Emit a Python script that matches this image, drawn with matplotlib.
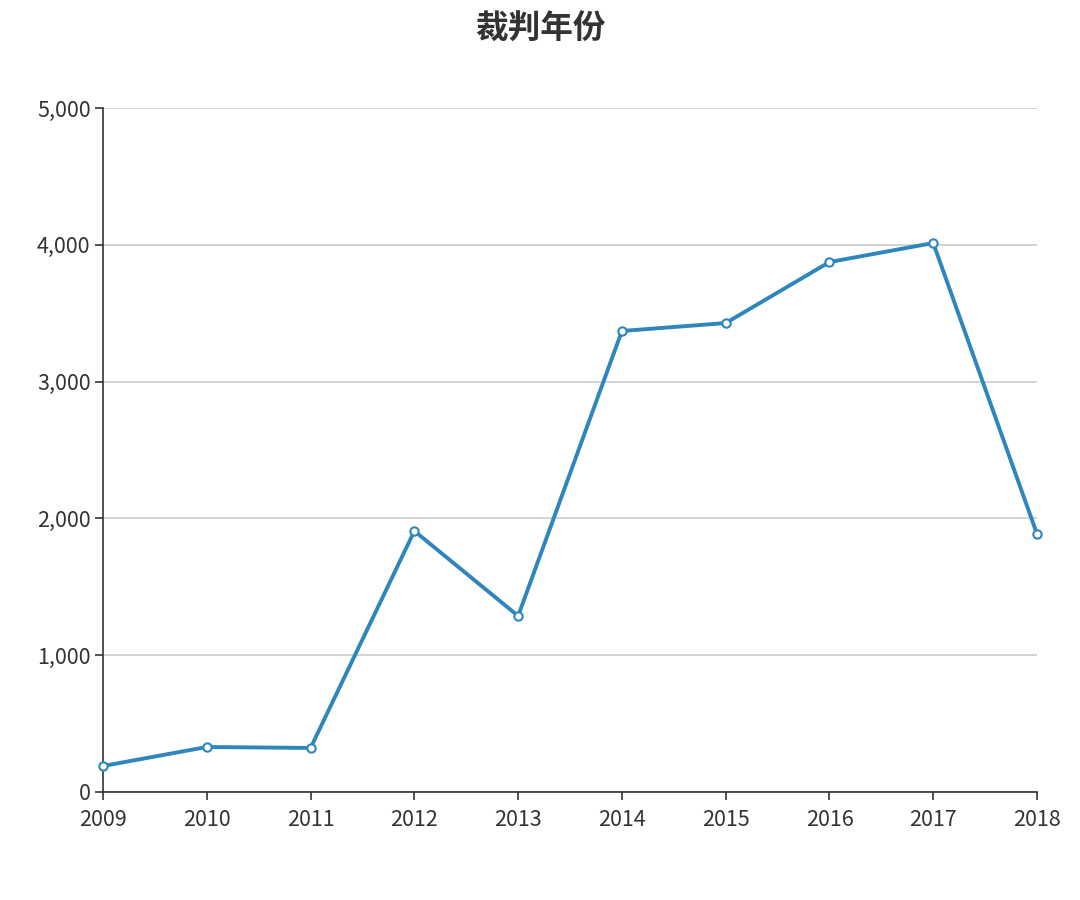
import matplotlib
matplotlib.use('Agg')
import matplotlib.pyplot as plt
from matplotlib.ticker import FuncFormatter

plt.rcParams['font.family'] = ['Noto Sans CJK SC', 'DejaVu Sans']

years = ['2009', '2010', '2011', '2012', '2013', '2014', '2015', '2016', '2017', '2018']
counts = [190, 329, 322, 1908, 1287, 3370, 3428, 3874, 4013, 1886]

fig = plt.figure(figsize=(10.8, 9), dpi=100, facecolor='white')
ax = fig.add_axes([0.0954, 0.12, 0.8648, 0.76])

x = list(range(len(years)))
ax.plot(x, counts, color='#2f86bd', linewidth=2.8, marker='o', markersize=6,
        markerfacecolor='white', markeredgecolor='#2f86bd', markeredgewidth=1.5,
        zorder=3, clip_on=False)

ax.set_xlim(0, len(years) - 1)
ax.set_ylim(0, 5000)
ax.set_xticks(x)
ax.set_xticklabels(years)
ax.set_yticks([0, 1000, 2000, 3000, 4000, 5000])
ax.yaxis.set_major_formatter(FuncFormatter(lambda v, p: '{:,}'.format(int(v))))

ax.grid(axis='y', color='#cccccc', linewidth=1.2)
ax.set_axisbelow(True)
for s in ['top', 'right']:
    ax.spines[s].set_visible(False)
for s in ['left', 'bottom']:
    ax.spines[s].set_color('#333333')
    ax.spines[s].set_linewidth(1.2)
ax.tick_params(axis='both', direction='out', length=6, width=1.2, color='#333333',
               labelsize=15.5, labelcolor='#333333', pad=3)
ax.tick_params(axis='x', pad=6)

fig.text(0.5, 0.967, '裁判年份', ha='center', va='center', fontsize=23.5,
         fontweight='bold', color='#333333')

fig.savefig('out.png', dpi=100, facecolor='white')
